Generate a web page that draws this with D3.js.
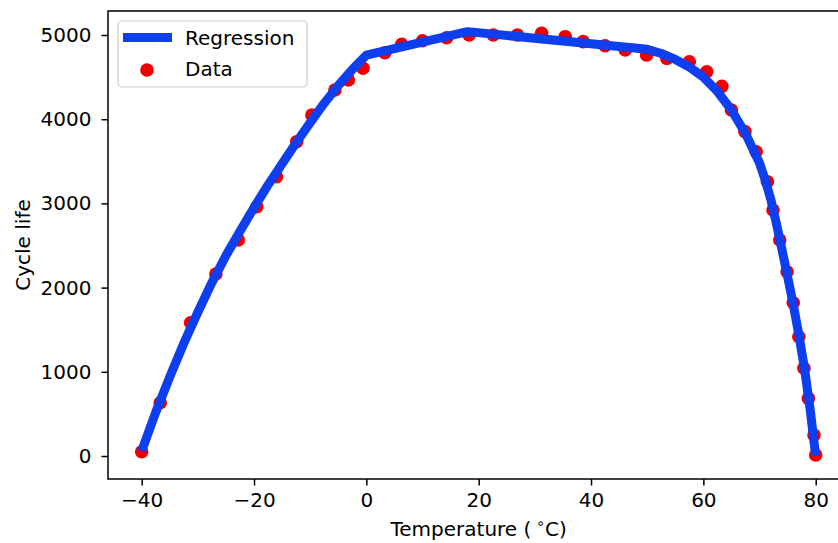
<!DOCTYPE html>
<html>
<head>
<meta charset="utf-8">
<script src="https://cdn.jsdelivr.net/npm/d3@7"></script>
<style>
  html, body { margin: 0; padding: 0; background: #fff; }
  svg { display: block; }
  text { font-family: "DejaVu Sans", sans-serif; fill: #000; }
</style>
</head>
<body>
<svg id="chart" width="838" height="543"></svg>
<script>
// Scatter data (measured points)
const dataTemp = [-40, -36.7, -31.3, -26.8, -22.8, -19.5, -16.0, -12.4, -9.7, -5.6,
  -3.2, -0.6, 3.3, 6.3, 10.0, 14.3, 18.3, 22.6, 26.9, 31.2,
  35.4, 38.6, 42.5, 46.1, 49.9, 53.5, 57.5, 60.6, 63.3, 65.0,
  67.4, 69.4, 71.4, 72.4, 73.6, 74.9, 76.0, 77.0, 77.9, 78.7,
  79.7, 80.0];
const dataCycle = [51, 633, 1583, 2162, 2565, 2961, 3317, 3733, 4050, 4347,
  4466, 4605, 4790, 4890, 4932, 4968, 5000, 5000, 5000, 5020,
  4980, 4921, 4873, 4822, 4762, 4723, 4683, 4564, 4390, 4109,
  3852, 3614, 3258, 2922, 2565, 2189, 1821, 1417, 1042, 685,
  249, 12];

// Regression curve
const regTemp = [-40, -37.5, -35, -32.5, -30, -27.5, -25, -22.5, -20, -17.5, -15, -12.5, -10, -7.5, -5, -2.5, 0,
  18, 50, 52.5, 55, 57.5, 60, 62.5, 65, 67.5, 70, 71, 72, 73, 74, 75, 76, 77, 78, 79, 80];
const regCycle = [60, 520, 940, 1340, 1710, 2060, 2380, 2670, 2950, 3220, 3470, 3720, 3960, 4190, 4400, 4590, 4760,
  5040, 4830, 4780, 4710, 4620, 4500, 4330, 4110, 3830, 3480, 3280, 3050, 2760, 2450, 2130, 1800, 1440, 1040, 560, 0];

const xTicks = [-40, -20, 0, 20, 40, 60, 80];
const yTicks = [0, 1000, 2000, 3000, 4000, 5000];
const xLabel = "Temperature (";
const yLabel = "Cycle life";
const legendNames = ["Regression", "Data"];

const svg = d3.select("#chart");
const L = 108, R = 849.4, T = 11, B = 479;
const x = d3.scaleLinear().domain([-46, 86]).range([L, R]);
const y = d3.scaleLinear().domain([-273, 5285]).range([B, T]);

const blue = "#0d3ff0", red = "#ee0000";

// scatter
svg.append("g").selectAll("circle")
  .data(dataTemp.map((t, i) => [t, dataCycle[i]]))
  .join("circle")
  .attr("cx", d => x(d[0])).attr("cy", d => y(d[1]))
  .attr("r", 6.8).attr("fill", red);

// regression line
const line = d3.line().x(d => x(d[0])).y(d => y(d[1]));
svg.append("path")
  .datum(regTemp.map((t, i) => [t, regCycle[i]]))
  .attr("d", line)
  .attr("fill", "none").attr("stroke", blue)
  .attr("stroke-width", 9).attr("stroke-linejoin", "round").attr("stroke-linecap", "butt");

// axes
const fmt = d => d < 0 ? "\u2212" + Math.abs(d) : String(d);
const xAxis = d3.axisBottom(x).tickValues(xTicks).tickFormat(fmt).tickSizeInner(6.5).tickSizeOuter(0).tickPadding(5);
const yAxis = d3.axisLeft(y).tickValues(yTicks).tickFormat(d => String(d)).tickSizeInner(6.5).tickSizeOuter(0).tickPadding(10);

const gx = svg.append("g").attr("transform", `translate(0,${B})`).call(xAxis);
const gy = svg.append("g").attr("transform", `translate(${L},0)`).call(yAxis);
[gx, gy].forEach(g => {
  g.select(".domain").remove();
  g.selectAll(".tick line").attr("stroke", "#000").attr("stroke-width", 1.5);
  g.selectAll(".tick text").attr("font-size", 20).attr("font-family", "DejaVu Sans").attr("fill", "#000");
});
gx.selectAll(".tick text").attr("dy", "0.71em").attr("y", 14);

// frame
svg.append("rect").attr("x", L).attr("y", T).attr("width", R - L).attr("height", B - T)
  .attr("fill", "none").attr("stroke", "#000").attr("stroke-width", 1.5);

// axis labels
const xl = svg.append("text").attr("x", (L + R) / 2).attr("y", 536)
  .attr("text-anchor", "middle").attr("font-size", 20);
xl.append("tspan").text(xLabel);
xl.append("tspan").attr("dx", 5).attr("dy", -8).attr("font-size", 14).text("\u2218");
xl.append("tspan").attr("dy", 8).text("C)");

svg.append("text").attr("transform", `translate(30,${(T + B) / 2}) rotate(-90)`)
  .attr("text-anchor", "middle").attr("font-size", 20).text(yLabel);

// legend
const lg = svg.append("g");
lg.append("rect").attr("x", 118).attr("y", 21).attr("width", 189).attr("height", 66).attr("rx", 4)
  .attr("fill", "#fff").attr("fill-opacity", 0.8).attr("stroke", "#cccccc").attr("stroke-width", 1.2);
lg.append("line").attr("x1", 123).attr("x2", 172).attr("y1", 37.5).attr("y2", 37.5)
  .attr("stroke", blue).attr("stroke-width", 9);
lg.append("circle").attr("cx", 147).attr("cy", 70).attr("r", 6.8).attr("fill", red);
lg.append("text").attr("x", 185).attr("y", 45).attr("font-size", 20).text(legendNames[0]);
lg.append("text").attr("x", 185).attr("y", 76).attr("font-size", 20).text(legendNames[1]);
</script>
</body>
</html>
